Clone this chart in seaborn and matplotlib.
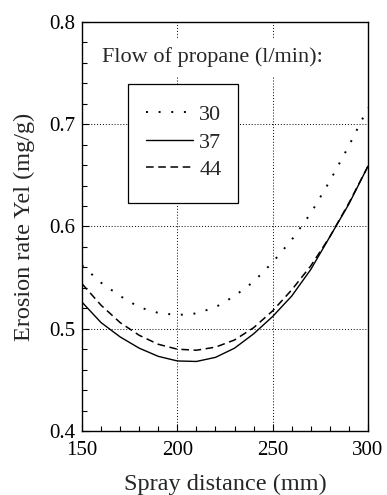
import numpy as np
import pandas as pd
import matplotlib
matplotlib.use("Agg")
import matplotlib.pyplot as plt
from matplotlib.patches import Rectangle
from matplotlib.lines import Line2D
from matplotlib.ticker import MultipleLocator
import seaborn as sns

# Data
distance = [150, 160, 170, 180, 190, 200, 210, 220, 230, 240, 250, 260, 270, 280, 290, 300]
rate_30 = [0.562, 0.545, 0.532, 0.521, 0.5155, 0.5134, 0.515, 0.521, 0.532, 0.546, 0.565, 0.587, 0.613, 0.6445, 0.679, 0.716]
rate_37 = [0.526, 0.506, 0.492, 0.481, 0.473, 0.4685, 0.468, 0.472, 0.481, 0.495, 0.512, 0.532, 0.558, 0.590, 0.622, 0.659]
rate_44 = [0.544, 0.523, 0.506, 0.4936, 0.4848, 0.480, 0.479, 0.482, 0.489, 0.501, 0.5175, 0.538, 0.5615, 0.590, 0.623, 0.659]
flows = ["30", "37", "44"]
x_ticks = [150, 200, 250, 300]
y_ticks = [0.4, 0.5, 0.6, 0.7, 0.8]

sns.set_style("ticks")
plt.rcParams["font.family"] = ["Liberation Serif", "DejaVu Serif"]

fig = plt.figure(figsize=(3.87, 4.95), dpi=100)
ax = fig.add_axes([0.2119, 0.1293, 0.9509 - 0.2119, 0.9556 - 0.1293])

styles = {
    "30": dict(linestyle=(0, (1, 5.5)), linewidth=1.4),
    "37": dict(linestyle="-", linewidth=1.0),
    "44": dict(linestyle=(0, (5, 3)), linewidth=1.1),
}
series = {"30": rate_30, "37": rate_37, "44": rate_44}
for f in flows:
    sns.lineplot(x=distance, y=series[f], color="black", ax=ax, zorder=3, **styles[f])

ax.set_xlim(150, 300)
ax.set_ylim(0.4, 0.8)
ax.set_xticks(x_ticks)
ax.set_yticks(y_ticks)
ax.set_xticklabels([str(v) for v in x_ticks])
ax.set_yticklabels([f"{v:.1f}" for v in y_ticks])
ax.xaxis.set_minor_locator(MultipleLocator(10))
ax.yaxis.set_minor_locator(MultipleLocator(0.02))
ax.tick_params(which="both", direction="in", top=False, right=False, colors="black")
ax.tick_params(which="major", length=5, width=0.8, labelsize=15, pad=5)
ax.tick_params(which="minor", length=3.5, width=0.8)
ax.tick_params(axis="x", which="major", pad=7)

ax.grid(True, which="major", color="black", linestyle=(0, (1, 2)), linewidth=0.7)
for s in ax.spines.values():
    s.set_color("black")
    s.set_linewidth(1.0)

ax.set_xlabel("Spray distance (mm)", fontsize=17.5, labelpad=10)
ax.set_ylabel("Erosion rate Yel (mg/g)", fontsize=17.5, labelpad=10)

# Title text of the legend with white background covering grid
ax.text(0.07, 0.914, "Flow of propane (l/min):", transform=ax.transAxes, fontsize=16,
        ha="left", va="center", zorder=4,
        bbox=dict(facecolor="white", edgecolor="none", pad=6))

# Legend box
rect = Rectangle((0.161, 0.557), 0.384, 0.291, transform=ax.transAxes,
                 facecolor="white", edgecolor="black", linewidth=0.9, zorder=4)
ax.add_patch(rect)
handles = [Line2D([], [], color="black", **styles[f]) for f in flows]
leg = ax.legend(handles, flows, loc="upper left", bbox_to_anchor=(0.224, 0.798),
                frameon=False, fontsize=16, handlelength=2.1, handletextpad=0.3,
                labelspacing=0.31, borderaxespad=0, borderpad=0)
leg.set_zorder(5)

fig.savefig("out.png", dpi=100)
